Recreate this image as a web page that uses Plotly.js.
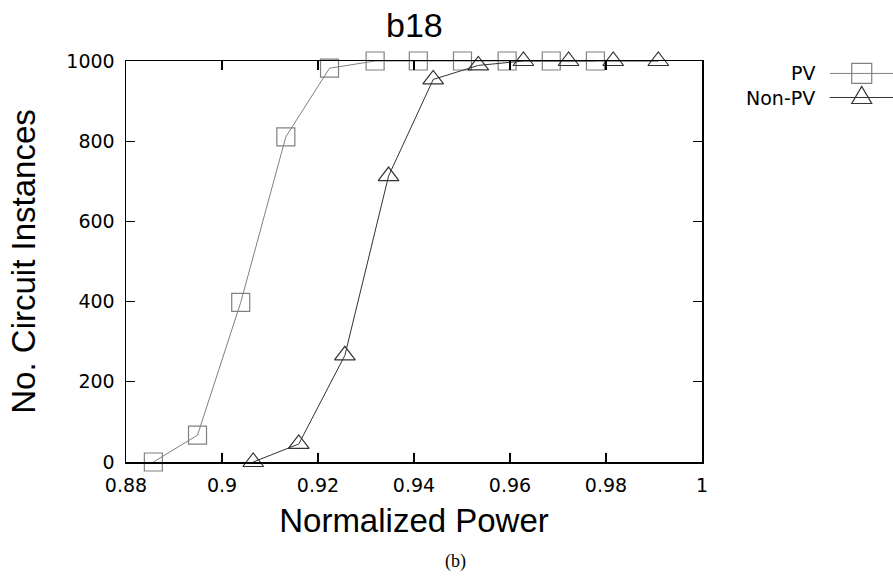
<!DOCTYPE html>
<html>
<head>
<meta charset="utf-8">
<script src="https://cdn.plot.ly/plotly-3.0.1.min.js"></script>
<style>html,body{margin:0;padding:0;background:#fff;}#chart{width:893px;height:576px;}</style>
</head>
<body>
<div id="chart"></div>
<script>
const pvX = [0.8857, 0.8949, 0.9039, 0.9133, 0.9224, 0.9319, 0.9409, 0.9501, 0.9594, 0.9686, 0.9778];
const pvY = [0, 67, 398, 811, 982, 1000, 1000, 1000, 1000, 1000, 1000];
const nonPvX = [0.9065, 0.9160, 0.9256, 0.9347, 0.9440, 0.9534, 0.9628, 0.9722, 0.9815, 0.9909];
const nonPvY = [0, 45, 266, 713, 954, 989, 1000, 1000, 1000, 1000];
const xTicks = [0.88, 0.9, 0.92, 0.94, 0.96, 0.98, 1];
const xTickText = ["0.88", "0.9", "0.92", "0.94", "0.96", "0.98", "1"];
const yTicks = [0, 200, 400, 600, 800, 1000];
const seriesNames = ["PV", "Non-PV"];

const pvColor = "#808080";
const nonColor = "#333333";

const traces = [
  {x: pvX, y: pvY, name: seriesNames[0], type: "scatter", mode: "lines+markers",
   line: {color: pvColor, width: 1},
   marker: {symbol: "square-open", size: 18, color: pvColor, line: {width: 1.2, color: pvColor}},
   showlegend: false, cliponaxis: false},
  {x: nonPvX, y: nonPvY, name: seriesNames[1], type: "scatter", mode: "lines+markers",
   line: {color: nonColor, width: 1},
   marker: {symbol: "triangle-up-open", size: 18, color: nonColor, line: {width: 1.2, color: nonColor}},
   showlegend: false, cliponaxis: false}
];

const axisCommon = {
  showgrid: false, zeroline: false, showline: true, linecolor: "#000", linewidth: 1.5,
  mirror: "ticks", ticks: "inside", ticklen: 9, tickwidth: 1.2, tickcolor: "#000",
  tickfont: {family: "DejaVu Sans", size: 19, color: "#000"}
};

const layout = {
  width: 893, height: 576,
  margin: {l: 126, r: 191, t: 61, b: 114},
  paper_bgcolor: "#fff", plot_bgcolor: "#fff",
  font: {family: "DejaVu Sans", color: "#000"},
  title: {text: "b18", font: {family: "Liberation Sans", size: 34, color: "#000"}, x: 0.464, xanchor: "center", y: 0.956, yanchor: "middle"},
  xaxis: Object.assign({}, axisCommon, {
    range: [0.88, 1.0], tickvals: xTicks, ticktext: xTickText, ticklabelstandoff: 6,
    title: {text: "Normalized Power", font: {family: "Liberation Sans", size: 33, color: "#000"}, standoff: 13}
  }),
  yaxis: Object.assign({}, axisCommon, {
    range: [0, 1000], tickvals: yTicks, ticklabelstandoff: 6,
    title: {text: "No. Circuit Instances", font: {family: "Liberation Sans", size: 33, color: "#000"}, standoff: 21}
  }),
  annotations: [
    {text: "(b)", xref: "paper", yref: "paper", x: 0.5712, y: -0.2469, xanchor: "center", yanchor: "middle",
     showarrow: false, font: {family: "Liberation Serif", size: 18, color: "#000"}},
    {text: seriesNames[0], xref: "paper", yref: "paper", x: 1.1991, y: 0.969, xanchor: "right", yanchor: "middle",
     showarrow: false, font: {family: "DejaVu Sans", size: 19, color: "#000"}},
    {text: seriesNames[1], xref: "paper", yref: "paper", x: 1.1991, y: 0.907, xanchor: "right", yanchor: "middle",
     showarrow: false, font: {family: "DejaVu Sans", size: 19, color: "#000"}}
  ],
  shapes: [
    {type: "line", xref: "paper", yref: "paper", x0: 1.222, x1: 1.332, y0: 0.969, y1: 0.969, line: {color: pvColor, width: 1}},
    {type: "rect", xref: "paper", yref: "paper", xsizemode: "pixel", ysizemode: "pixel",
     xanchor: 1.2773, yanchor: 0.969, x0: -10, x1: 10, y0: -10, y1: 10, line: {color: pvColor, width: 1.2}},
    {type: "line", xref: "paper", yref: "paper", x0: 1.222, x1: 1.332, y0: 0.909, y1: 0.909, line: {color: nonColor, width: 1}},
    {type: "path", xref: "paper", yref: "paper", xsizemode: "pixel", ysizemode: "pixel",
     xanchor: 1.2773, yanchor: 0.909, path: "M -10 -6 L 10 -6 L 0 11 Z", line: {color: nonColor, width: 1.2}}
  ]
};

Plotly.newPlot("chart", traces, layout, {displayModeBar: false, staticPlot: true});
</script>
</body>
</html>
